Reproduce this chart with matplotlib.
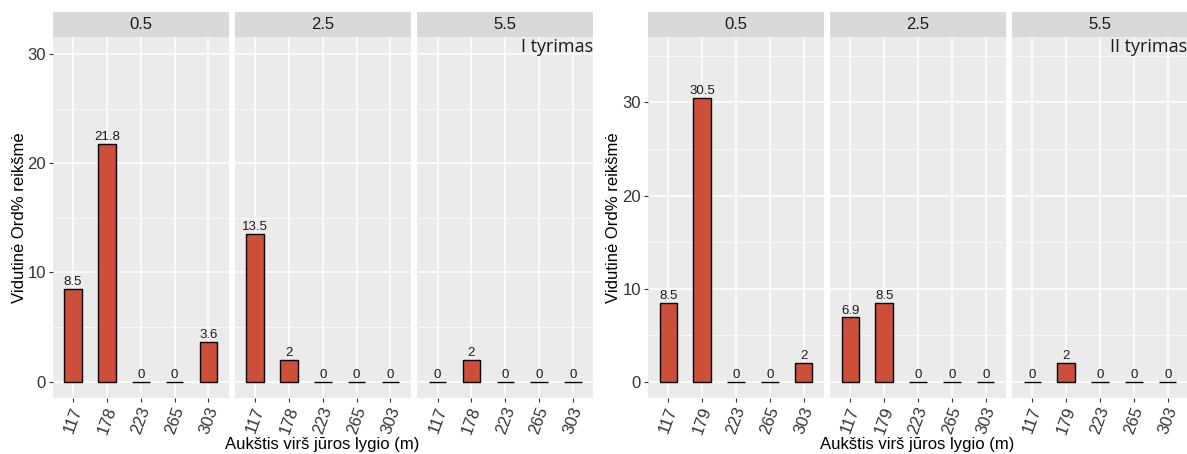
import matplotlib
matplotlib.use("Agg")
import matplotlib.pyplot as plt
import numpy as np

plt.rcParams["font.family"] = ["Liberation Sans", "DejaVu Sans"]

# data
depths = ["0.5", "2.5", "5.5"]
alt_1 = ["117", "178", "223", "265", "303"]
alt_2 = ["117", "179", "223", "265", "303"]
vals_1 = [[8.5, 21.8, 0, 0, 3.6],
          [13.5, 2, 0, 0, 0],
          [0, 2, 0, 0, 0]]
vals_2 = [[8.5, 30.5, 0, 0, 2],
          [6.9, 8.5, 0, 0, 0],
          [0, 2, 0, 0, 0]]

W, H = 1187, 454
fig = plt.figure(figsize=(W / 100, H / 100), dpi=100)

bar_col = "#CD4F39"
bg = "#EBEBEB"
strip_col = "#D9D9D9"


def fx(px):
    return px / W


def fy(px):
    return 1 - px / H


def draw_plot(lefts, width, vals, alts, ylim, note, ylab_x, xlab_x):
    top, bot, strip_top = 37.3, 397.7, 12.3
    for i, (l, v) in enumerate(zip(lefts, vals)):
        ax = fig.add_axes([fx(l), fy(bot), fx(width), (bot - top) / H])
        ax.set_facecolor(bg)
        x = np.arange(1, len(alts) + 1)
        ax.bar(x, v, width=0.52, color=bar_col, edgecolor="black", linewidth=1.0, zorder=3)
        for xi, vi in zip(x, v):
            lab = f"{vi:g}"
            ax.text(xi, vi + 0.1, lab, ha="center", va="bottom", fontsize=9.5, color="#1a1a1a", zorder=4)
        ax.set_xticks(x)
        ax.set_xticklabels(alts, rotation=70, ha="center", va="top", fontsize=12, color="#333333")
        ax.set_yticks([0, 10, 20, 30])
        ax.set_yticks([5, 15, 25, 35], minor=True)
        ax.set_xlim(0.4, len(alts) + 0.6)
        ax.set_ylim(*ylim)
        ax.grid(which="major", color="white", linewidth=1.1, zorder=0)
        ax.grid(which="minor", axis="y", color="white", linewidth=0.5, zorder=0)
        ax.tick_params(axis="x", which="major", length=3, color="#333333", pad=2)
        ax.tick_params(axis="y", which="minor", length=0)
        if i == 0:
            ax.tick_params(axis="y", which="major", length=3, color="#333333", labelsize=12,
                           labelcolor="#333333", pad=2)
        else:
            ax.tick_params(axis="y", which="major", length=0, labelleft=False)
        for s in ax.spines.values():
            s.set_visible(False)
        ax.set_axisbelow(True)

        # facet strip
        sa = fig.add_axes([fx(l), fy(top), fx(width), (top - strip_top) / H])
        sa.set_facecolor(strip_col)
        sa.set_xticks([])
        sa.set_yticks([])
        for s in sa.spines.values():
            s.set_visible(False)
        sa.text(0.5, 0.5, depths[i], ha="center", va="center", fontsize=12, color="#1a1a1a",
                transform=sa.transAxes)

        if i == len(lefts) - 1:
            ax.text(0.997, 0.972, note, ha="right", va="center", fontsize=13,
                    family=["Open Sans", "DejaVu Sans"], color="#1a1a1a", transform=ax.transAxes)

    fig.text(fx(ylab_x), fy((top + bot) / 2), "Vidutinė Ord% reikšmė", rotation=90,
             ha="center", va="center", fontsize=12, color="black")
    fig.text(fx(xlab_x), fy(445), "Aukštis virš jūros lygio (m)", ha="center", va="center",
             fontsize=12, color="black")


draw_plot([52.7, 234.7, 417.3], 176, vals_1, alt_1, (-1.47, 31.54),
          "I tyrimas", 20, 322)
draw_plot([648, 830, 1012], 176, vals_2, alt_2, (-1.72, 37.0),
          "II tyrimas", 614, 917)

fig.savefig("out.png", dpi=100)
